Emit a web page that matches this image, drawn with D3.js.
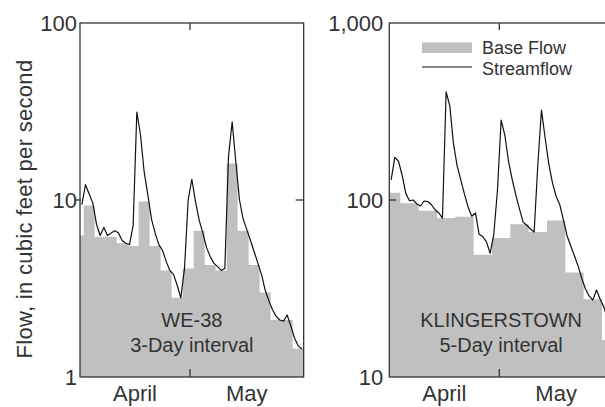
<!DOCTYPE html>
<html>
<head>
<meta charset="utf-8">
<script src="https://cdn.jsdelivr.net/npm/d3@7"></script>
<style>
  html, body { margin: 0; padding: 0; background: #fff; }
  svg { display: block; font-family: "Liberation Sans", Arial, Helvetica, sans-serif; }
</style>
</head>
<body>
<svg id="chart" width="605" height="407"></svg>
<script>
// Daily mean streamflow, April 1 – May 31 (cubic feet per second)
const we38Streamflow = [
  9.4, 12.2, 10.8, 9.6, 7.3, 6.3, 7.0, 6.3, 6.5, 6.7,
  6.5, 5.9, 5.7, 5.6, 7.2, 31.4, 23.3, 14.4, 10.7, 7.8,
  6.5, 5.6, 5.2, 4.5, 4.0, 3.8, 3.3, 2.8, 4.1, 10.0,
  13.1, 9.8, 7.7, 6.5, 5.4, 4.8, 4.4, 4.2, 4.0, 4.1,
  17.7, 27.6, 16.4, 10.0, 7.8, 6.8, 5.9, 5.1, 4.4, 3.8,
  3.1, 2.7, 2.4, 2.2, 2.1, 2.07, 2.24, 1.94, 1.66, 1.5, 1.44
];
const klingStreamflow = [
  130, 174, 166, 138, 109, 99, 100, 95, 92.5, 98.7,
  98, 94, 88, 84.5, 79, 408, 340, 208, 156, 130,
  108, 91, 81, 84.5, 64, 62, 58, 50, 64, 114,
  283, 233, 166, 131, 107, 89, 75, 72, 68.6, 66,
  158, 322, 224, 160, 125, 105, 94, 77, 62.6, 55,
  48.3, 42.4, 36, 31.4, 28.7, 27.2, 31, 27.6, 24.9, 21.5, 19.4
];

// Base flow from hydrograph separation: start day of each interval and its flow
const we38BaseStart = [0, 1, 4, 7, 10, 13, 16, 19, 22, 25, 28, 31, 34, 37, 40, 43, 46, 49, 52, 55, 58];
const we38BaseFlow  = [6.3, 9.3, 6.2, 6.2, 5.7, 5.5, 9.8, 5.5, 4.0, 2.8, 4.1, 6.7, 4.3, 4.0, 16.1, 6.7, 4.3, 3.0, 2.1, 2.1, 1.45];
const klingBaseStart = [0, 3, 8, 13, 18, 23, 28, 33, 38, 43, 48, 53, 58];
const klingBaseFlow  = [110, 96, 87, 79, 80.5, 49, 61, 73, 66, 76.6, 39, 27.5, 16.2];

// Month labels and their day ranges (day 0 = April 1)
const monthNames = ["April", "May"];
const monthStartDay = [0, 30, 61];

const yTitle = "Flow, in cubic feet per second";
const legendLabels = ["Base Flow", "Streamflow"];

const panels = [
  {
    id: "we38", left: 80, yDomain: [1, 100],
    stream: we38Streamflow, baseStart: we38BaseStart, baseFlow: we38BaseFlow, interval: 3,
    title: ["WE-38", "3-Day interval"], labelGap: 3, leftTickIn: false
  },
  {
    id: "kling", left: 389.3, yDomain: [10, 1000],
    stream: klingStreamflow, baseStart: klingBaseStart, baseFlow: klingBaseFlow, interval: 5,
    title: ["KLINGERSTOWN", "5-Day interval"], labelGap: 6, leftTickIn: true, legend: true
  }
];

const svg = d3.select("#chart");
const plotTop = 23, plotBottom = 377, pxPerDay = 110 / 30;
const ink = "#333", fillGray = "#c0c0c0";

panels.forEach(p => {
  const width = pxPerDay * 61;
  const x = d3.scaleLinear().domain([0, 61]).range([p.left, p.left + width]);
  const y = d3.scaleLog().domain(p.yDomain).range([plotBottom, plotTop]);
  const g = svg.append("g");

  g.append("clipPath").attr("id", "clip-" + p.id)
    .append("rect").attr("x", p.left).attr("y", plotTop).attr("width", width).attr("height", plotBottom - plotTop);

  const plot = g.append("g").attr("clip-path", `url(#clip-${p.id})`);

  // Base flow as a stepped filled area
  const steps = p.baseStart.map((d, i) => ({ day: d, v: p.baseFlow[i] }));
  const last = steps[steps.length - 1];
  steps.push({ day: last.day + p.interval, v: last.v });
  plot.append("path")
    .datum(steps)
    .attr("fill", fillGray)
    .attr("d", d3.area().curve(d3.curveStepAfter)
      .x(d => x(d.day)).y0(plotBottom).y1(d => y(d.v)));

  // Daily streamflow plotted at mid-day
  plot.append("path")
    .datum(p.stream.map((v, i) => ({ day: i + 0.5, v })))
    .attr("fill", "none")
    .attr("stroke", "#111")
    .attr("stroke-width", 1.2)
    .attr("stroke-linejoin", "round")
    .attr("d", d3.line().x(d => x(d.day)).y(d => y(d.v)));

  // Frame
  g.append("rect")
    .attr("x", p.left).attr("y", plotTop).attr("width", width).attr("height", plotBottom - plotTop)
    .attr("fill", "none").attr("stroke", ink).attr("stroke-width", 1.3);

  // Y ticks on both sides
  const yTicks = y.ticks().filter(t => Math.abs(Math.log10(t) % 1) < 1e-9);
  const fmt = d3.format(",");
  yTicks.forEach(t => {
    const yy = y(t);
    if (t !== p.yDomain[0] && t !== p.yDomain[1]) {
      g.append("line")
        .attr("x1", p.leftTickIn ? p.left : p.left - 4).attr("x2", p.leftTickIn ? p.left + 7 : p.left + 1)
        .attr("y1", yy).attr("y2", yy).attr("stroke", ink).attr("stroke-width", 1.3);
      g.append("line")
        .attr("x1", p.left + width - 8).attr("x2", p.left + width)
        .attr("y1", yy).attr("y2", yy).attr("stroke", ink).attr("stroke-width", 1.3);
    }
    g.append("text")
      .attr("x", p.left - p.labelGap).attr("y", yy + 8)
      .attr("text-anchor", "end").attr("font-size", 22).attr("fill", ink)
      .text(fmt(t));
  });

  // Month boundary ticks (top and bottom) and month labels
  monthStartDay.slice(1, -1).forEach(d => {
    const xx = x(d);
    g.append("line").attr("x1", xx).attr("x2", xx).attr("y1", plotTop).attr("y2", plotTop + 7)
      .attr("stroke", ink).attr("stroke-width", 1.3);
    g.append("line").attr("x1", xx).attr("x2", xx).attr("y1", plotBottom).attr("y2", plotBottom - 8)
      .attr("stroke", ink).attr("stroke-width", 1.3);
  });
  monthNames.forEach((m, i) => {
    g.append("text")
      .attr("x", x((monthStartDay[i] + monthStartDay[i + 1]) / 2))
      .attr("y", 401)
      .attr("text-anchor", "middle").attr("font-size", 22).attr("fill", ink)
      .text(m);
  });

  // Station name and separation interval
  p.title.forEach((t, i) => {
    g.append("text")
      .attr("x", x(30.5)).attr("y", 327 + i * 25)
      .attr("text-anchor", "middle").attr("font-size", 20).attr("fill", ink)
      .text(t);
  });

  if (p.legend) {
    const lg = g.append("g").attr("transform", "translate(422,0)");
    lg.append("rect").attr("x", 0).attr("y", 42.5).attr("width", 50).attr("height", 10.5).attr("fill", fillGray);
    lg.append("line").attr("x1", 0).attr("x2", 50).attr("y1", 67).attr("y2", 67)
      .attr("stroke", "#111").attr("stroke-width", 1.2);
    legendLabels.forEach((t, i) => {
      lg.append("text").attr("x", 60).attr("y", 53.5 + i * 21)
        .attr("font-size", 18).attr("fill", ink).text(t);
    });
  }
});

// Shared y-axis title
svg.append("text")
  .attr("transform", "translate(32,209) rotate(-90)")
  .attr("text-anchor", "middle").attr("font-size", 22).attr("letter-spacing", 0.3)
  .attr("fill", ink)
  .text(yTitle);
</script>
</body>
</html>
